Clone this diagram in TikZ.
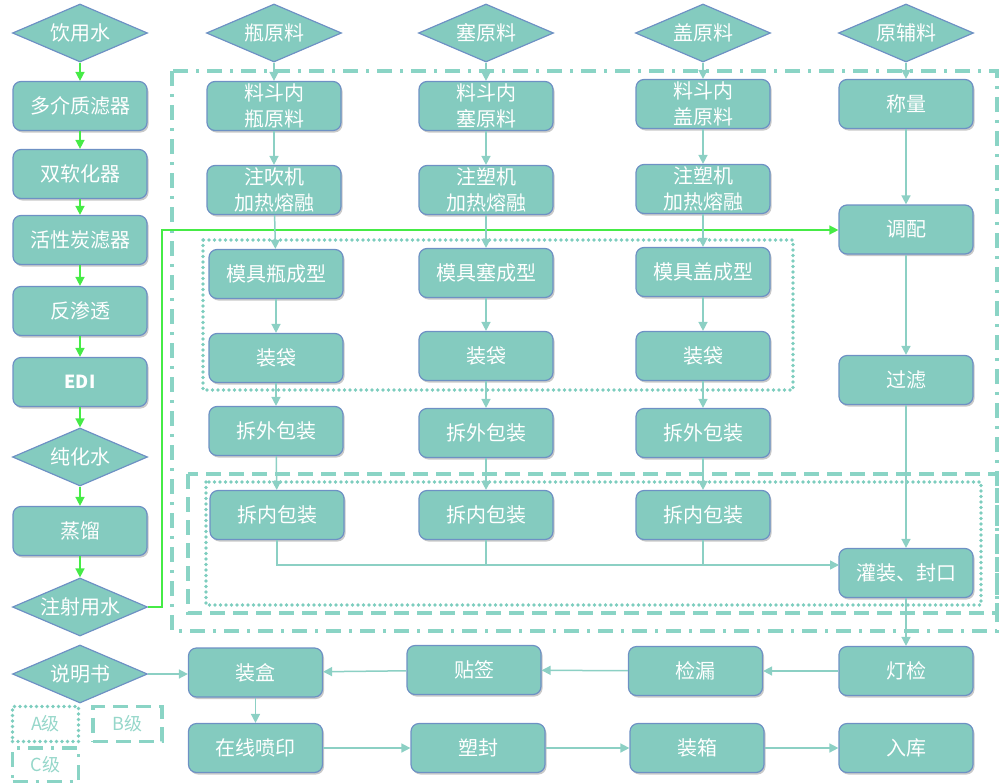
\documentclass[tikz,border=0pt]{standalone}
\usepackage{fontspec}
\setmainfont{Noto Sans CJK SC}
\usetikzlibrary{shapes.geometric,arrows.meta,shadows}
\definecolor{boxfill}{RGB}{132,203,191}
\definecolor{boxline}{RGB}{110,145,196}
\definecolor{flowc}{RGB}{140,208,196}
\definecolor{gline}{RGB}{70,235,70}
\definecolor{zone}{RGB}{138,212,197}
\definecolor{zonedot}{RGB}{125,205,190}
\definecolor{legtext}{RGB}{150,215,202}
\begin{document}
\begin{tikzpicture}[x=1pt,y=-1pt,
  box/.style={draw=boxline, line width=1.2pt, fill=boxfill, rounded corners=8pt,
    minimum width=134pt, minimum height=49pt, text=white,
    font=\fontsize{20}{26}\selectfont, align=center, inner sep=0pt,
    drop shadow={shadow xshift=1.5pt, shadow yshift=-2pt, opacity=0.3, fill=black!70}},
  dia/.style={draw=boxline, line width=1.2pt, fill=boxfill, diamond,
    minimum width=135pt, minimum height=58pt, inner sep=0pt},
  dtext/.style={text=white, font=\fontsize{20}{26}\selectfont},
  flow/.style={draw=flowc, line width=1.5pt, -{Triangle[length=9pt,width=9pt]}},
  joinline/.style={draw=flowc, line width=1.5pt},
  gflow/.style={draw=gline, line width=1.5pt, -{Triangle[length=9pt,width=9pt]}},
  zoneC/.style={draw=zone, line width=3.5pt, dash pattern=on 15pt off 8pt on 3pt off 8pt},
  zoneB/.style={draw=zone, line width=3.5pt, dash pattern=on 15pt off 8pt},
  zoneA/.style={draw=zonedot, line width=3.6pt, line cap=round, dash pattern=on 0pt off 5.5pt},
  legend/.style={text=legtext, font=\fontsize{18}{20}\selectfont, inner sep=0pt}
]
\useasboundingbox (0,0) rectangle (1001,782);

% zones
\draw[zoneC] (172,71) rectangle (997,631);
\draw[zoneA] (203,240) rectangle (793,390);
\draw[zoneB] (188,474) rectangle (997,613);
\draw[zoneA] (206,482) rectangle (981,605);

% left column
\node[dia, label={[dtext]center:饮用水}] (w0) at (80,33) {};
\node[box] (w1) at (80,106) {多介质滤器};
\node[box] (w2) at (80,174) {双软化器};
\node[box] (w3) at (80,240) {活性炭滤器};
\node[box] (w4) at (80,311) {反渗透};
\node[box, font=\fontsize{18}{24}\selectfont\bfseries] (w5) at (80,382) {EDI};
\node[dia, label={[dtext]center:纯化水}] (w6) at (80,457) {};
\node[box] (w7) at (80,531) {蒸馏};
\node[dia, label={[dtext]center:注射用水}] (w8) at (80,607) {};
\node[dia, label={[dtext]center:说明书}] (sm) at (80,674) {};

% legend
\node[legend, draw=zonedot, line width=3.6pt, line cap=round, dash pattern=on 0pt off 5.5pt,
  minimum width=66pt, minimum height=35pt] (la) at (45.5,724) {A级};
\node[legend, draw=zone, line width=3.5pt, dash pattern=on 15pt off 8pt,
  minimum width=69pt, minimum height=35pt] (lb) at (127.5,724) {B级};
\node[legend, draw=zone, line width=3.5pt, dash pattern=on 15pt off 8pt on 3pt off 8pt,
  minimum width=66pt, minimum height=34pt] (lc) at (45.5,765) {C级};

% column 2
\node[dia, label={[dtext]center:瓶原料}] (a0) at (274,33) {};
\node[box] (a1) at (274,106) {料斗内\\瓶原料};
\node[box] (a2) at (274,190) {注吹机\\加热熔融};
\node[box] (a3) at (276,274) {模具瓶成型};
\node[box] (a4) at (276,358) {装袋};
\node[box] (a5) at (276,431) {拆外包装};
\node[box] (a6) at (277,515) {拆内包装};

% column 3
\node[dia, label={[dtext]center:塞原料}] (b0) at (486,33) {};
\node[box] (b1) at (486,106) {料斗内\\塞原料};
\node[box] (b2) at (486,190) {注塑机\\加热熔融};
\node[box] (b3) at (486,273) {模具塞成型};
\node[box] (b4) at (486,356) {装袋};
\node[box] (b5) at (486,433) {拆外包装};
\node[box] (b6) at (486,515) {拆内包装};

% column 4
\node[dia, label={[dtext]center:盖原料}] (c0) at (703,33) {};
\node[box] (c1) at (703,104) {料斗内\\盖原料};
\node[box] (c2) at (703,189) {注塑机\\加热熔融};
\node[box] (c3) at (703,272) {模具盖成型};
\node[box] (c4) at (703,356) {装袋};
\node[box] (c5) at (703,433) {拆外包装};
\node[box] (c6) at (703,515) {拆内包装};

% column 5
\node[dia, label={[dtext]center:原辅料}] (d0) at (906,33) {};
\node[box] (d1) at (906,104) {称量};
\node[box] (d2) at (906,229.5) {调配};
\node[box] (d3) at (906,380) {过滤};
\node[box] (d4) at (906,573) {灌装、封口};
\node[box] (d5) at (906,671) {灯检};

% bottom rows
\node[box] (e1) at (255.5,672.5) {装盒};
\node[box] (e2) at (474,670) {贴签};
\node[box] (e3) at (695.5,671) {检漏};
\node[box] (f1) at (255.5,748) {在线喷印};
\node[box] (f2) at (478,748) {塑封};
\node[box] (f3) at (697,748) {装箱};
\node[box] (f4) at (906,748) {入库};

% green water line
\draw[gflow] (w0) -- (w1);
\draw[gflow] (w1) -- (w2);
\draw[gflow] (w2) -- (w3);
\draw[gflow] (w3) -- (w4);
\draw[gflow] (w4) -- (w5);
\draw[gflow] (w5) -- (w6);
\draw[gflow] (w6) -- (w7);
\draw[gflow] (w7) -- (w8);
\coordinate (gturn) at (162,230);
\draw[gflow] (w8.east) -| (gturn) -- (d2.west |- gturn);

% columns
\foreach \c in {a,b,c}{
  \draw[flow] (\c0) -- (\c1);
  \draw[flow] (\c1) -- (\c2);
  \draw[flow] (\c2) -- (\c3);
  \draw[flow] (\c3) -- (\c4);
  \draw[flow] (\c4) -- (\c5);
  \draw[flow] (\c5) -- (\c6);
}
\coordinate (gin) at (839,565);
\draw[flow] (a6.south) |- (gin);
\draw[joinline] (b6.south) -- (b6.south |- gin);
\draw[joinline] (c6.south) -- (c6.south |- gin);

\draw[flow] (d0) -- (d1);
\draw[flow] (d1) -- (d2);
\draw[flow] (d2) -- (d3);
\draw[flow] (d3) -- (d4);
\draw[flow] (d4) -- (d5);

\draw[flow] (d5) -- (e3);
\draw[flow] (e3) -- (e2);
\draw[flow] (e2) -- (e1);
\draw[flow] (sm.east) -- (e1.west |- sm.east);
\draw[flow] (e1) -- (f1);
\draw[flow] (f1) -- (f2);
\draw[flow] (f2) -- (f3);
\draw[flow] (f3) -- (f4);
\end{tikzpicture}
\end{document}
